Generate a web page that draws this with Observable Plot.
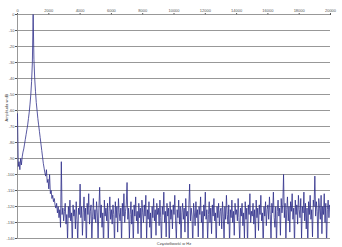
<!DOCTYPE html>
<html><head><meta charset="utf-8">
<script src="https://cdn.jsdelivr.net/npm/d3@7"></script>
<script src="https://cdn.jsdelivr.net/npm/@observablehq/plot@0.6"></script>
<style>body{margin:0;background:#fff}</style>
</head><body><div id="c"></div>
<script>
const stepHz = 50;
// 0 .. 2400 Hz
const skirtDb = [-62,-95,-92,-97,-90,-94,-89,-86,-84,-81,
  -78,-75,-72,-69,-65,-61,-56,-50,-42,-30,
  0,
  -28,-40,-48,-55,-60,-65,-69,-73,-77,-81,
  -85,-89,-93,-96,-99,-101,-97,-105,-103,-109,
  -100,-112,-110,-115,-113,-117,-115,-119];
// 2450 .. 20000 Hz
const noiseDb = [
  -121,-118,-124,-120,-127,-122,-133,-92,-125,-121,-129,
  -123,-118,-131,-125,-141,-120,-127,-116,-129,-124,-145,-119,-126,-122,-134,-117,-128,-142,-121,-125,
  -106,-127,-120,-138,-124,-114,-129,-121,-146,-118,-125,-112,-131,-123,-119,-143,-126,-115,-128,-122,
  -130,-117,-124,-141,-121,-108,-127,-119,-133,-124,-147,-116,-126,-121,-129,-118,-142,-123,-114,-128,
  -122,-131,-119,-125,-144,-117,-127,-120,-136,-115,-124,-129,-121,-143,-118,-126,-112,-130,-123,-119,
  -105,-128,-121,-140,-125,-117,-131,-122,-145,-119,-126,-114,-129,-123,-137,-118,-127,-121,-142,-116,
  -124,-130,-119,-126,-113,-141,-122,-128,-117,-133,-124,-146,-120,-127,-115,-129,-122,-138,-118,-125,
  -121,-132,-116,-127,-143,-120,-125,-111,-130,-123,-139,-118,-126,-121,-147,-117,-128,-122,-134,-119,
  -125,-113,-129,-141,-122,-127,-116,-131,-120,-144,-124,-118,-128,-121,-136,-115,-126,-123,-140,-119,
  -106,-129,-121,-126,-145,-118,-124,-132,-117,-127,-122,-139,-120,-125,-114,-130,-123,-143,-119,-126,
  -111,-128,-122,-141,-125,-117,-130,-121,-137,-119,-126,-115,-129,-124,-146,-120,-127,-118,-132,-123,
  -121,-134,-117,-126,-142,-120,-128,-113,-125,-131,-119,-144,-122,-127,-116,-130,-123,-138,-118,-125,
  -122,-129,-115,-127,-143,-121,-126,-118,-132,-124,-140,-117,-128,-121,-145,-119,-125,-112,-130,-123,
  -126,-118,-131,-122,-141,-116,-127,-121,-135,-119,-125,-113,-129,-124,-147,-120,-126,-117,-132,-122,
  -119,-128,-114,-125,-142,-118,-124,-111,-127,-133,-120,-144,-123,-116,-126,-121,-138,-115,-124,-119,
  -100,-127,-118,-141,-122,-114,-129,-120,-136,-117,-123,-112,-128,-121,-145,-116,-125,-119,-131,-113,
  -122,-127,-115,-140,-120,-124,-111,-129,-118,-134,-121,-146,-117,-125,-113,-128,-122,-139,-116,-120,
  -101,-126,-117,-123,-142,-115,-121,-128,-113,-137,-120,-125,-112,-130,-118,-144,-122,-116,-127,-119,
  -121];
const xTicks = [0,2000,4000,6000,8000,10000,12000,14000,16000,18000,20000];
const yTicks = [0,-10,-20,-30,-40,-50,-60,-70,-80,-90,-100,-110,-120,-130,-140];

const amps = skirtDb.concat(noiseDb);
const data = amps.map((a, i) => ({f: i * stepHz, a}));

const chart = Plot.plot({
  width: 342, height: 247,
  marginLeft: 17, marginRight: 12, marginTop: 14, marginBottom: 9,
  style: {fontFamily: "'Liberation Sans', Arial, sans-serif", fontSize: "4px", color: "#555", background: "#fff", overflow: "visible"},
  x: {domain: [0, 20000], axis: "top", ticks: xTicks, tickSize: 2, tickPadding: 1, tickFormat: d => String(d), label: null},
  y: {domain: [-140, 0], axis: "left", ticks: yTicks, tickSize: 2, tickPadding: 1, tickFormat: d => String(d), label: null},
  marks: [
    Plot.ruleY(yTicks, {stroke: "#8c8c8c", strokeWidth: 0.9}),
    Plot.ruleX([0], {stroke: "#8c8c8c", strokeWidth: 0.9}),
    Plot.line(data, {x: "f", y: "a", stroke: "#2e2e8a", strokeWidth: 0.8, clip: true}),
    Plot.text(["Częstotliwość w Hz"], {frameAnchor: "bottom", dy: 5, lineAnchor: "middle", fill: "#444", fontSize: 4}),
    Plot.text(["Amplituda w dB"], {frameAnchor: "left", dx: -11, dy: -5, rotate: -90, fill: "#444", fontSize: 4})
  ]
});
document.getElementById("c").appendChild(chart);
</script>
</body></html>
